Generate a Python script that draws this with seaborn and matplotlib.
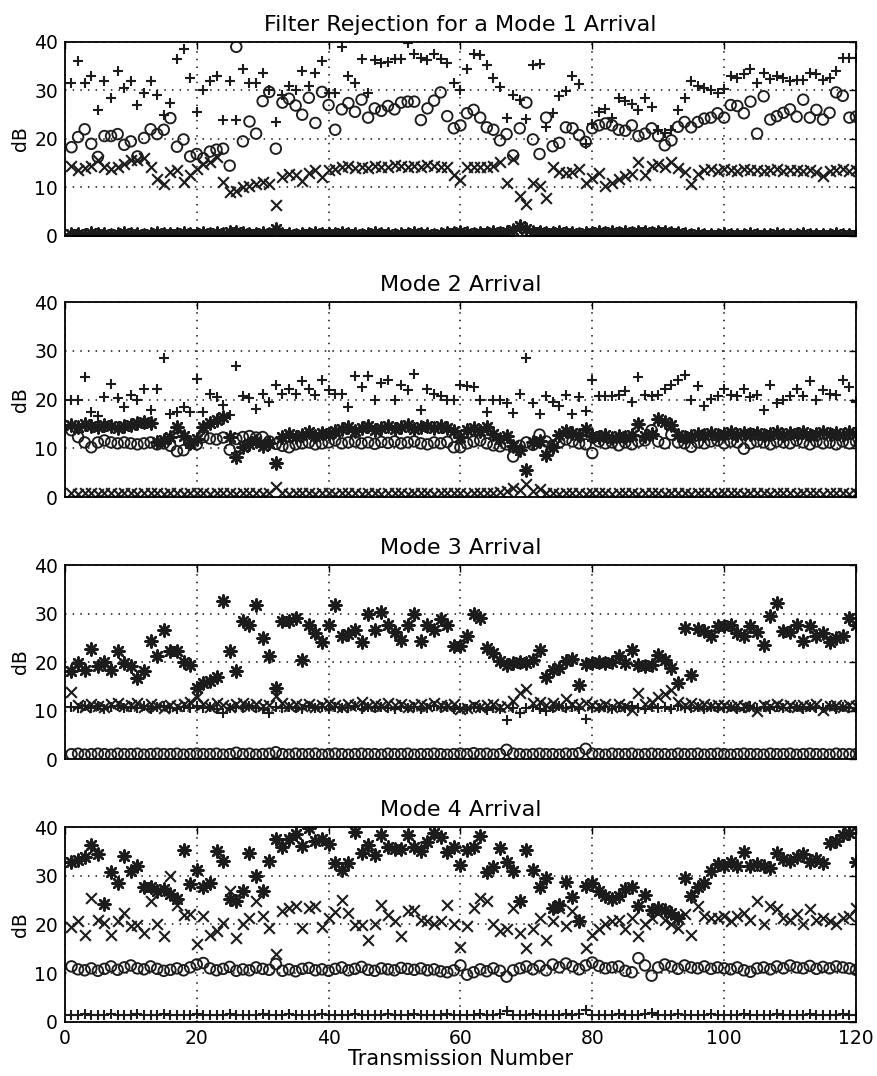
import numpy as np
import matplotlib
matplotlib.use("Agg")
import matplotlib.pyplot as plt
import seaborn as sns

# ---------------- data ----------------
transmission = list(range(1, 121))

titles = ["Filter Rejection for a Mode 1 Arrival", "Mode 2 Arrival",
          "Mode 3 Arrival", "Mode 4 Arrival"]
x_ticks = [0, 20, 40, 60, 80, 100, 120]
y_ticks = [0, 10, 20, 30, 40]

# Mode 1 panel
m1_plus = [31.5, 36, 31.5, 33, 26, 32, 28.5, 34, 30.5, 32,
           27, 29.5, 32, 29, 25, 27.5, 36.5, 38.5, 32.5, 25.5,
           30, 32, 33, 24, 32, 24, 34.5, 31.5, 31.5, 33.5,
           30, 23.5, 29, 31, 30, 34, 31, 33.5, 36, 29.5,
           29.5, 39, 33, 31.5, 36.5, 29.5, 36.2, 35.7, 35.8, 36.4,
           36.5, 39.8, 37.6, 36.7, 36.2, 37.6, 36.5, 35.7, 31.5, 30.1,
           34.4, 37.6, 37.4, 35.3, 32.6, 30.7, 24.4, 29.1, 28, 24.2,
           35.3, 35.5, 22.5, 25.3, 28.8, 29.8, 32.9, 31.4, 19, 23,
           25.6, 26.1, 24.4, 28.4, 27.9, 27.2, 26, 28.4, 26.5, 21.9,
           21.2, 21.8, 26, 28.4, 31.9, 31, 30.5, 30.1, 29.4, 30.3,
           32.9, 32.6, 33.3, 34.4, 31.5, 33.6, 32.4, 32.9, 32.6, 31.9,
           32.2, 32.2, 33.6, 33.3, 32.1, 32.6, 34, 36.7, 36.7, 36.7]
m1_circle = [18.3, 20.4, 22, 19, 16.3, 20.6, 20.6, 21, 18.8, 19.5,
             16.4, 20.2, 22, 21, 21.9, 24.3, 18.4, 19.9, 16.4, 16.9,
             16, 17.4, 17.8, 18, 14.5, 39, 19.5, 23.6, 21.1, 27.8,
             29.7, 18, 27.5, 28.3, 26.9, 25, 28.5, 23.3, 29.7, 27,
             21.9, 26.1, 27.4, 25.6, 28.1, 24.4, 26.3, 25.8, 26.8, 26.1,
             27.5, 27.7, 27.7, 23.9, 26.3, 27.9, 29.6, 24.7, 22.2, 22.8,
             25.3, 26, 24.4, 22.4, 21.9, 19.7, 21, 16.6, 22.2, 27.5,
             19.9, 16.9, 24.4, 18.5, 19.2, 22.4, 22.2, 20.8, 19.4, 22.2,
             22.8, 23.2, 22.8, 21.9, 21.7, 22.8, 20.6, 21.1, 22.2, 20.6,
             18.7, 19.7, 22.5, 23.5, 22.4, 23.5, 24.2, 24.4, 25.3, 24.4,
             27, 26.8, 25.3, 27.7, 21.1, 28.8, 24, 24.7, 25.4, 26.1,
             24.6, 28.1, 24.4, 26, 24, 25.4, 29.6, 28.9, 24.4, 24.6]
m1_cross = [14.5, 13.6, 14.1, 14.5, 15.7, 14.2, 13.9, 14.2, 14.9, 15.6,
            15.6, 16, 14.3, 11.8, 10.8, 13.2, 13.5, 11.1, 12.5, 13.9,
            14.9, 15.3, 16.3, 11.1, 9, 9.3, 10, 10.4, 10.7, 11.1,
            10.7, 6.4, 12.2, 12.8, 12.5, 11.4, 12.9, 13.5, 12.1, 13.5,
            13.8, 14.2, 14.5, 14, 14.3, 14, 14.5, 14.2, 14.3, 14.7,
            14.5, 14.2, 14.5, 14.2, 14.7, 14.5, 14.2, 14.2, 12.6, 11.5,
            14.2, 14.2, 14.2, 14.3, 14.5, 15.2, 11, 15.9, 8.3, 6.5,
            11, 10.3, 7.9, 14.2, 13.1, 12.9, 13.1, 13.8, 11, 12,
            12.9, 10.3, 11, 11.7, 12.4, 12.8, 15.2, 12.6, 14.5, 14.9,
            14.2, 15.2, 14, 13.1, 10.7, 12.8, 13.5, 13.8, 13.4, 13.9,
            13.6, 13.4, 13.8, 13.5, 13.7, 13.3, 13.6, 13.8, 13.4, 13.5,
            13.7, 13.3, 13.6, 13.2, 12.4, 13.4, 13.6, 13.8, 13.4, 13.6]
m1_star = [0.4, 0.5, 0.3, 0.6, 0.4, 0.5, 0.3, 0.5, 0.6, 0.4,
           0.5, 0.3, 0.4, 0.6, 0.5, 0.4, 0.5, 0.7, 0.4, 0.5,
           0.6, 0.5, 0.7, 0.5, 0.8, 0.9, 0.6, 0.5, 0.4, 0.6,
           0.5, 1.5, 0.4, 0.5, 0.3, 0.5, 0.4, 0.6, 0.5, 0.4,
           0.5, 0.6, 0.4, 0.5, 0.3, 0.5, 0.6, 0.4, 0.5, 0.3,
           0.5, 0.4, 0.6, 0.5, 0.4, 0.3, 0.5, 0.6, 0.7, 0.8,
           0.6, 0.5, 0.7, 0.6, 0.8, 0.7, 0.9, 1.2, 2, 1.4,
           0.9, 0.8, 0.7, 0.6, 0.8, 0.7, 0.6, 0.5, 0.7, 0.6,
           0.8, 0.7, 0.9, 0.7, 0.8, 0.6, 0.9, 0.8, 0.7, 0.9,
           0.8, 0.7, 0.6, 0.4, 0.3, 0.4, 0.3, 0.2, 0.3, 0.4,
           0.3, 0.2, 0.3, 0.4, 0.3, 0.2, 0.3, 0.4, 0.2, 0.3,
           0.3, 0.4, 0.2, 0.3, 0.3, 0.2, 0.4, 0.3, 0.2, 0.3]

# Mode 2 panel
m2_plus = [19.9, 19.9, 24.6, 17.4, 16.6, 20.6, 23.2, 20.4, 18.5, 20.9,
           19.9, 22.1, 17.9, 22.1, 28.5, 17, 17.4, 18.5, 17.4, 24.3,
           17.4, 21.1, 20.6, 18.8, 16.8, 26.9, 20.7, 20.4, 18.1, 21.1,
           19.5, 23, 21.2, 22.1, 21.2, 23.7, 22.1, 20.9, 24, 21.9,
           21.2, 21.1, 18.5, 24.8, 22.6, 24.8, 19.9, 23.3, 24, 20,
           23, 21.9, 25.2, 17.8, 22.1, 21.1, 20.7, 19.9, 19.9, 23,
           22.8, 22.6, 19.9, 17.4, 20, 19.9, 19.3, 17.2, 21.1, 28.5,
           19.2, 17, 20.7, 19.5, 18.6, 20.9, 17.1, 20.6, 17.7, 24.1,
           20.7, 20.7, 20.7, 20.9, 21.8, 19.5, 24.6, 20.9, 20.7, 20.9,
           22.1, 23, 24.1, 25, 19.9, 22.8, 18.6, 20.2, 20.7, 22.1,
           20.9, 20.7, 22.1, 20.6, 20.9, 17.8, 23, 19.3, 19.9, 20.7,
           22.1, 20.7, 23.7, 19.9, 21.9, 21.1, 20.9, 24, 22.6, 19.5]
m2_circle = [13.7, 12.3, 11.2, 10.2, 11.2, 11.6, 11.2, 11, 11.2, 11,
             10.8, 11, 11.2, 10.8, 11, 10.5, 9.4, 9.6, 11, 10.8,
             12.3, 12, 11.8, 12.2, 9.7, 11.9, 12.3, 12.5, 12.2, 12.3,
             11.4, 10.9, 10.5, 10.2, 10.8, 11, 11.2, 10.8, 11, 11.2,
             11.6, 11, 11.2, 11.4, 11, 11.2, 10.9, 11.3, 11.1, 11.4,
             11, 11.2, 11.4, 11, 10.8, 11.2, 11, 11.3, 10.2, 10.2,
             11, 11.4, 11.6, 11, 10.6, 10.4, 10.8, 8.3, 10.5, 11.2,
             10.7, 12.8, 11.4, 10.6, 11.2, 11.8, 11.4, 11, 10.8, 9,
             11.4, 11, 11.2, 10.6, 11.2, 10.8, 11.4, 11.6, 13.7, 11.4,
             11, 12.8, 11.2, 11, 10.3, 11.2, 11, 11.4, 11.6, 11,
             11.4, 11.2, 9.9, 11, 11.4, 11.2, 10.8, 11.4, 11.2, 11,
             11.6, 11.2, 10.8, 11.4, 11, 11.2, 10.8, 11.4, 11, 11.4]
m2_star = [14.7, 14.3, 15, 14.6, 14.3, 14.8, 14.5, 14.2, 14.6, 14.8,
           15.2, 15.4, 15.2, 11.2, 11.6, 12.3, 14.3, 12.5, 11, 12,
           14.3, 15.2, 15.8, 16.4, 12.4, 8.3, 10.2, 10.8, 11.4, 10.5,
           11, 6.9, 12.3, 13, 12.4, 12.8, 13.4, 12.6, 13.2, 13,
           13.6, 14, 14.4, 13.6, 14.2, 14.6, 13.8, 14.2, 14.5, 13.9,
           14.3, 14.8, 14, 14.4, 14.6, 14.1, 14.5, 14.2, 13.5, 12.4,
           13.8, 14.2, 13.6, 14.4, 13, 11.8, 12.6, 10.4, 9.6, 5.5,
           11.2, 11.4, 8.7, 10.2, 12.8, 13.6, 13.2, 12.8, 13.9, 12.6,
           12.4, 12.8, 12.2, 12.6, 12.3, 12.8, 15, 12.6, 13, 16,
           15.4, 14.7, 12.8, 12.4, 12.6, 13, 12.8, 13.2, 12.7, 13,
           13.3, 12.8, 13.1, 12.9, 13.2, 12.7, 13, 13.4, 12.8, 13.1,
           12.9, 13.3, 12.7, 13, 13.4, 12.9, 13.2, 12.8, 13.3, 13]
m2_cross = [0.8, 0.7, 0.9, 0.8, 0.7, 0.8, 0.9, 0.7, 0.8, 0.8,
            0.7, 0.9, 0.8, 0.8, 0.7, 0.9, 0.8, 0.7, 0.8, 0.9,
            0.8, 0.7, 0.8, 0.9, 0.8, 0.7, 0.9, 0.8, 0.8, 0.7,
            0.9, 2, 0.8, 0.7, 0.8, 0.9, 0.8, 0.7, 0.8, 0.8,
            0.7, 0.9, 0.8, 0.8, 0.7, 0.8, 0.9, 0.7, 0.8, 0.9,
            0.8, 0.7, 0.8, 0.9, 0.8, 0.7, 0.8, 0.9, 0.8, 0.8,
            0.7, 0.9, 0.8, 0.8, 0.9, 1.1, 1.3, 1.9, 1.4, 2.6,
            1.2, 1.6, 0.9, 0.8, 0.7, 0.8, 0.9, 0.8, 0.7, 0.8,
            0.9, 0.8, 0.7, 0.8, 0.8, 0.9, 0.7, 0.8, 0.9, 0.8,
            0.7, 0.8, 0.9, 0.8, 0.7, 0.8, 0.8, 0.9, 0.7, 0.8,
            0.9, 0.8, 0.7, 0.8, 0.9, 0.8, 0.7, 0.8, 0.8, 0.9,
            0.7, 0.8, 0.9, 0.8, 0.7, 0.8, 0.9, 0.8, 0.7, 0.8]

# Mode 3 panel
m3_star = [18.1, 19.7, 18.4, 22.6, 19.1, 20.1, 18.4, 22.2, 19.8, 19.1,
           16.7, 18.1, 24.3, 21.2, 26.7, 22.2, 22.2, 20.1, 19.4, 14.6,
           15.7, 16, 17, 32.6, 22.2, 18.1, 28.4, 27.7, 31.7, 25,
           21.2, 14.6, 28.4, 28.4, 29.1, 20.5, 27.7, 26, 24.1, 27.7,
           31.7, 25.3, 25.7, 26.7, 24.1, 30, 26.6, 30.3, 27.7, 26.1,
           24.6, 27.7, 29.8, 24.3, 27.7, 26.6, 28.9, 27.7, 23.2, 23.2,
           25.3, 29.8, 29.1, 22.9, 21.9, 20.3, 19.4, 19.7, 19.9, 19.7,
           20.5, 22.4, 17, 18.4, 18.8, 20.3, 20.6, 15.3, 19.5, 19.8,
           19.9, 19.7, 19.9, 21.3, 19.7, 22.4, 19.4, 19.1, 19.4, 21.5,
           20.5, 18.8, 15.7, 27, 17.4, 26.8, 26.3, 25.3, 27.4, 27.5,
           27.7, 26, 25.3, 27.4, 26.1, 23.6, 29.4, 32.1, 26.3, 26.1,
           27.7, 24.3, 27.4, 25.3, 26, 24.1, 25, 25.3, 29.1, 27.7]
m3_cross = [13.9, 11.2, 10.8, 11.4, 11, 10.7, 11.3, 11.5, 10.9, 11.2,
            11.6, 10.8, 11.3, 11, 10.6, 11.2, 10.9, 11.4, 11.7, 12.8,
            11.3, 10.8, 11.5, 11.1, 10.7, 11.3, 11.6, 11, 11.4, 10.9,
            11.2, 12.9, 11.5, 10.9, 11.3, 11, 11.4, 10.8, 11.2, 11.5,
            11.1, 10.8, 11.4, 11.2, 11.7, 11, 11.3, 10.9, 11.5, 11.2,
            11.4, 10.8, 11.1, 11.3, 10.9, 11.5, 11.2, 11, 11.4, 10.4,
            10.5, 11.2, 10.8, 11.1, 11.3, 10.8, 11, 12, 13.6, 14.4,
            11.6, 11.8, 11.2, 11.5, 11, 12.4, 11.3, 11.1, 11.6, 11.2,
            11, 11.4, 10.8, 11.3, 11, 10.1, 13.6, 11.4, 11.7, 12.8,
            13.4, 14.3, 11.8, 11.2, 11.5, 11, 11.3, 10.9, 11.2, 11.1,
            10.8, 11.2, 11, 10.7, 9.8, 11.1, 10.9, 11.3, 11, 11.2,
            10.8, 11.1, 10.9, 11.3, 10.1, 11, 11.2, 10.8, 11.1, 11]
m3_plus = [10.8, 10.5, 11, 10.6, 10.9, 10.4, 10.7, 11, 10.5, 10.8,
           10.6, 10.9, 10.4, 10.7, 11, 10.5, 10.3, 10.8, 10.6, 10.9,
           10.5, 10.7, 10.4, 9.4, 10.6, 10.8, 10.5, 10.9, 10.6, 10.4,
           9.4, 10.7, 10.5, 10.8, 10.6, 10.3, 10.9, 10.5, 10.7, 10.4,
           10.8, 10.5, 10.6, 10.9, 10.4, 10.7, 10.5, 10.8, 10.6, 10.3,
           10.7, 10.5, 10.8, 10.4, 10.6, 10.9, 10.5, 10.7, 10.3, 10.6,
           10.4, 10.8, 10.5, 10.2, 10.6, 10.3, 8.1, 10.5, 9.4, 10.6,
           10.8, 10.4, 9.8, 10.6, 10.9, 10.5, 10.7, 10.3, 8.2, 10.6,
           10.5, 10.8, 10.4, 10.7, 10.5, 10.9, 10.6, 10.4, 10.8, 10.5,
           10.7, 10.4, 10.9, 10.6, 10.5, 10.8, 10.4, 10.7, 10.5, 10.6,
           10.8, 10.4, 10.6, 10.9, 10.5, 10.7, 10.4, 10.8, 10.6, 10.5,
           10.7, 10.4, 10.8, 10.6, 10.5, 10.9, 10.4, 10.7, 10.5, 10.6]
m3_circle = [1.0, 1.1, 0.9, 1.0, 1.1, 1.0, 0.9, 1.1, 1.0, 1.0,
             1.1, 0.9, 1.0, 1.1, 1.0, 1.0, 1.1, 0.9, 1.0, 1.1,
             1.0, 1.0, 1.1, 0.9, 1.0, 1.3, 1.0, 1.1, 0.9, 1.0,
             1.1, 1.4, 1.0, 0.9, 1.1, 1.0, 1.0, 1.1, 0.9, 1.0,
             1.1, 1.0, 0.9, 1.0, 1.1, 1.0, 1.0, 0.9, 1.1, 1.0,
             1.0, 1.1, 0.9, 1.0, 1.0, 1.1, 1.0, 0.9, 1.0, 1.1,
             1.0, 1.2, 1.0, 1.1, 0.9, 1.0, 1.9, 1.1, 1.0, 0.9,
             1.0, 1.1, 1.0, 1.0, 0.9, 1.1, 1.0, 1.2, 2.1, 1.1,
             1.0, 0.9, 1.1, 1.0, 1.0, 1.1, 0.9, 1.0, 1.1, 1.0,
             1.0, 0.9, 1.1, 1.0, 1.0, 1.1, 0.9, 1.0, 1.1, 1.0,
             0.9, 1.0, 1.1, 1.0, 1.0, 0.9, 1.1, 1.0, 1.0, 1.1,
             0.9, 1.0, 1.1, 1.0, 1.0, 0.9, 1.1, 1.0, 1.0, 1.0]

# Mode 4 panel
m4_star = [32.8, 33.2, 33.8, 36.4, 34.5, 24.3, 30.7, 28.6, 34.1, 31,
           31.9, 27.7, 27.7, 26.9, 27.2, 26.2, 25.2, 35.3, 28.4, 31.2,
           27.6, 28.6, 35, 33, 25.2, 24.8, 26.8, 34.6, 30, 26.9,
           33, 37.6, 36, 37.5, 38.6, 36.2, 39.8, 37.1, 37.6, 36.5,
           32.6, 31.2, 32.6, 39, 34.6, 36.4, 34.3, 38.3, 36, 35.5,
           35.5, 38.3, 36, 35, 37, 38.8, 37.9, 34.8, 35.9, 32.3,
           35.2, 36, 38.1, 30.7, 31.7, 35.7, 32.8, 30.9, 24.8, 35.3,
           31.2, 27.7, 29.5, 23.3, 24.1, 28.8, 25.7, 20.7, 27.9, 28.6,
           26.8, 25.9, 25.2, 25.9, 27.2, 27.7, 23.8, 26.1, 22.9, 23.3,
           22.9, 22.4, 21.4, 29.5, 25.9, 27.6, 28.6, 30.9, 32.4, 32.1,
           32.8, 31.9, 34.8, 31.9, 32.4, 32.1, 31.6, 34.6, 33.4, 33.1,
           33.8, 34.5, 32.8, 33.4, 32.6, 36.7, 37.1, 38.3, 38.8, 32.8]
m4_cross = [19.4, 20.8, 17.9, 25.5, 21, 20.3, 17.9, 20.8, 22.4, 19.7,
            19.9, 18.3, 24.8, 20.1, 17.6, 30, 24.1, 22, 22.1, 15.9,
            21.7, 17.9, 18.6, 20.3, 26.9, 17.2, 20, 21.4, 24.8, 21.7,
            19.3, 13.9, 22.8, 23.3, 23.8, 19.2, 23.3, 23.8, 19.4, 21.4,
            22.6, 25, 22.4, 19.9, 19.9, 16.9, 20, 24.1, 21.9, 20.7,
            17.6, 22.8, 22.9, 21, 20.7, 20, 20.7, 24.1, 20, 15.3,
            19.7, 23.3, 25.5, 24.8, 20, 18.6, 19, 23.3, 18.3, 15.2,
            19, 21.4, 16.9, 20.7, 23.4, 19.7, 22.8, 20.7, 15.2, 17.9,
            19, 20.1, 20.7, 21, 19, 21.4, 17.6, 20, 21.4, 22.4,
            21, 20, 19.2, 22.1, 17.9, 23.8, 21.7, 21.4, 21.4, 21.7,
            20.7, 21.7, 22.4, 21, 24.8, 20, 23.8, 23.1, 21.4, 21,
            22.1, 20, 23.1, 21, 21.4, 20.8, 20, 21.4, 21.7, 23.3]
m4_circle = [11.4, 10.8, 10.6, 11, 10.5, 10.9, 11.4, 10.7, 11.2, 11.6,
             11, 10.8, 11.4, 10.9, 10.5, 10.7, 11, 10.6, 11.2, 11.8,
             12.1, 11, 10.6, 10.9, 11.3, 10.5, 10.8, 10.6, 11.2, 10.9,
             10.7, 11.9, 10.5, 10.8, 10.4, 10.9, 11.1, 10.6, 10.8, 10.5,
             10.9, 11.2, 10.6, 10.9, 11.3, 10.7, 10.5, 11, 10.8, 10.6,
             11.1, 10.9, 10.7, 11, 10.6, 10.8, 10.4, 10.2, 10.6, 11.6,
             9.7, 10.2, 10.8, 10.4, 11, 10.5, 9.3, 10.6, 11, 11.4,
             10.8, 11.5, 10.6, 11.8, 11.2, 12, 11.4, 10.8, 11.6, 12.2,
             11.5, 11, 11.2, 11.4, 10.5, 10.2, 13.1, 11.6, 9.5, 11.2,
             11.8, 11.4, 10.9, 11.6, 11.2, 11, 11.4, 10.9, 11.2, 11,
             10.8, 11.2, 10.6, 10.3, 11, 11.2, 10.8, 11.4, 11, 11.6,
             11.2, 11, 11.5, 10.9, 11.3, 11, 11.4, 11.2, 11, 10.7]
m4_plus = [1.5, 1.4, 1.6, 1.5, 1.5, 1.4, 1.6, 1.5, 1.4, 1.5,
           1.6, 1.5, 1.4, 1.5, 1.6, 1.5, 1.5, 1.4, 1.5, 1.6,
           1.5, 1.4, 1.5, 1.5, 1.6, 1.5, 1.4, 1.5, 1.5, 1.6,
           1.5, 1.4, 1.5, 1.6, 1.5, 1.5, 1.4, 1.5, 1.6, 1.5,
           1.4, 1.5, 1.5, 1.6, 1.5, 1.4, 1.5, 1.5, 1.6, 1.5,
           1.4, 1.5, 1.6, 1.5, 1.5, 1.4, 1.5, 1.6, 1.5, 1.5,
           1.4, 1.5, 1.6, 1.5, 1.5, 1.6, 2.3, 1.5, 1.4, 1.5,
           1.6, 1.5, 1.5, 1.4, 1.5, 1.6, 1.5, 1.6, 2.4, 1.5,
           1.5, 1.4, 1.5, 1.6, 1.5, 1.5, 1.4, 1.6, 1.9, 1.5,
           1.4, 1.5, 1.6, 1.5, 1.5, 1.4, 1.5, 1.6, 1.5, 1.5,
           1.4, 1.5, 1.6, 1.5, 1.5, 1.4, 1.5, 1.6, 1.5, 1.5,
           1.4, 1.5, 1.6, 1.5, 1.5, 1.4, 1.5, 1.6, 1.5, 1.5]

ASTERISK = (8, 2, 0)
panels = [
    [(m1_plus, "+"), (m1_circle, "o"), (m1_cross, "x"), (m1_star, ASTERISK)],
    [(m2_plus, "+"), (m2_circle, "o"), (m2_star, ASTERISK), (m2_cross, "x")],
    [(m3_star, ASTERISK), (m3_cross, "x"), (m3_plus, "+"), (m3_circle, "o")],
    [(m4_star, ASTERISK), (m4_cross, "x"), (m4_circle, "o"), (m4_plus, "+")],
]

# ---------------- style ----------------
sns.set_theme(style="white")
plt.rcParams["font.family"] = ["DejaVu Sans"]
plt.rcParams["text.color"] = "black"
plt.rcParams["axes.labelcolor"] = "black"
INK = "#1c1c1c"

fig = plt.figure(figsize=(8.77, 10.76), dpi=100)
# axes boxes in figure fractions: [left, bottom, width, height]
boxes = [
    [0.074, 0.7807, 0.902, 0.1803],
    [0.074, 0.5381, 0.902, 0.1812],
    [0.074, 0.2946, 0.902, 0.1803],
    [0.074, 0.0502, 0.902, 0.1812],
]

for i, (box, series) in enumerate(zip(boxes, panels)):
    ax = fig.add_axes(box)
    for values, mk in series:
        if mk == "o":
            sns.scatterplot(x=transmission, y=values, ax=ax, marker="o", s=58,
                            facecolors="none", edgecolor=INK, linewidth=1.35,
                            legend=False, zorder=3)
        elif mk == ASTERISK:
            sns.scatterplot(x=transmission, y=values, ax=ax, marker=mk, s=75,
                            color=INK, linewidth=1.8, legend=False, zorder=3)
        else:
            sns.scatterplot(x=transmission, y=values, ax=ax, marker=mk, s=60,
                            color=INK, linewidth=1.5, legend=False, zorder=3)
    ax.set_xlim(0, 120)
    ax.set_ylim(0, 40)
    ax.set_xticks(x_ticks)
    ax.set_yticks(y_ticks)
    ax.grid(True, linestyle=(0, (1, 4)), color="#111111", linewidth=1.1)
    ax.tick_params(direction="in", length=5, width=1, top=True, right=True,
                   labelsize=13.5, colors="black", pad=5)
    for sp in ax.spines.values():
        sp.set_color("black")
        sp.set_linewidth(1.3)
        sp.set_zorder(4)
    ax.set_ylabel("dB", fontsize=13.5, labelpad=3, color="black")
    ax.set_title(titles[i], fontsize=16, pad=8, color="black")
    if i < 3:
        ax.set_xticklabels([])
        ax.set_xlabel("")
    else:
        ax.set_xticklabels([str(t) for t in x_ticks])
        ax.set_xlabel("Transmission Number", fontsize=15, labelpad=1,
                      color="black")

fig.savefig("out.png", dpi=100, facecolor="white")
